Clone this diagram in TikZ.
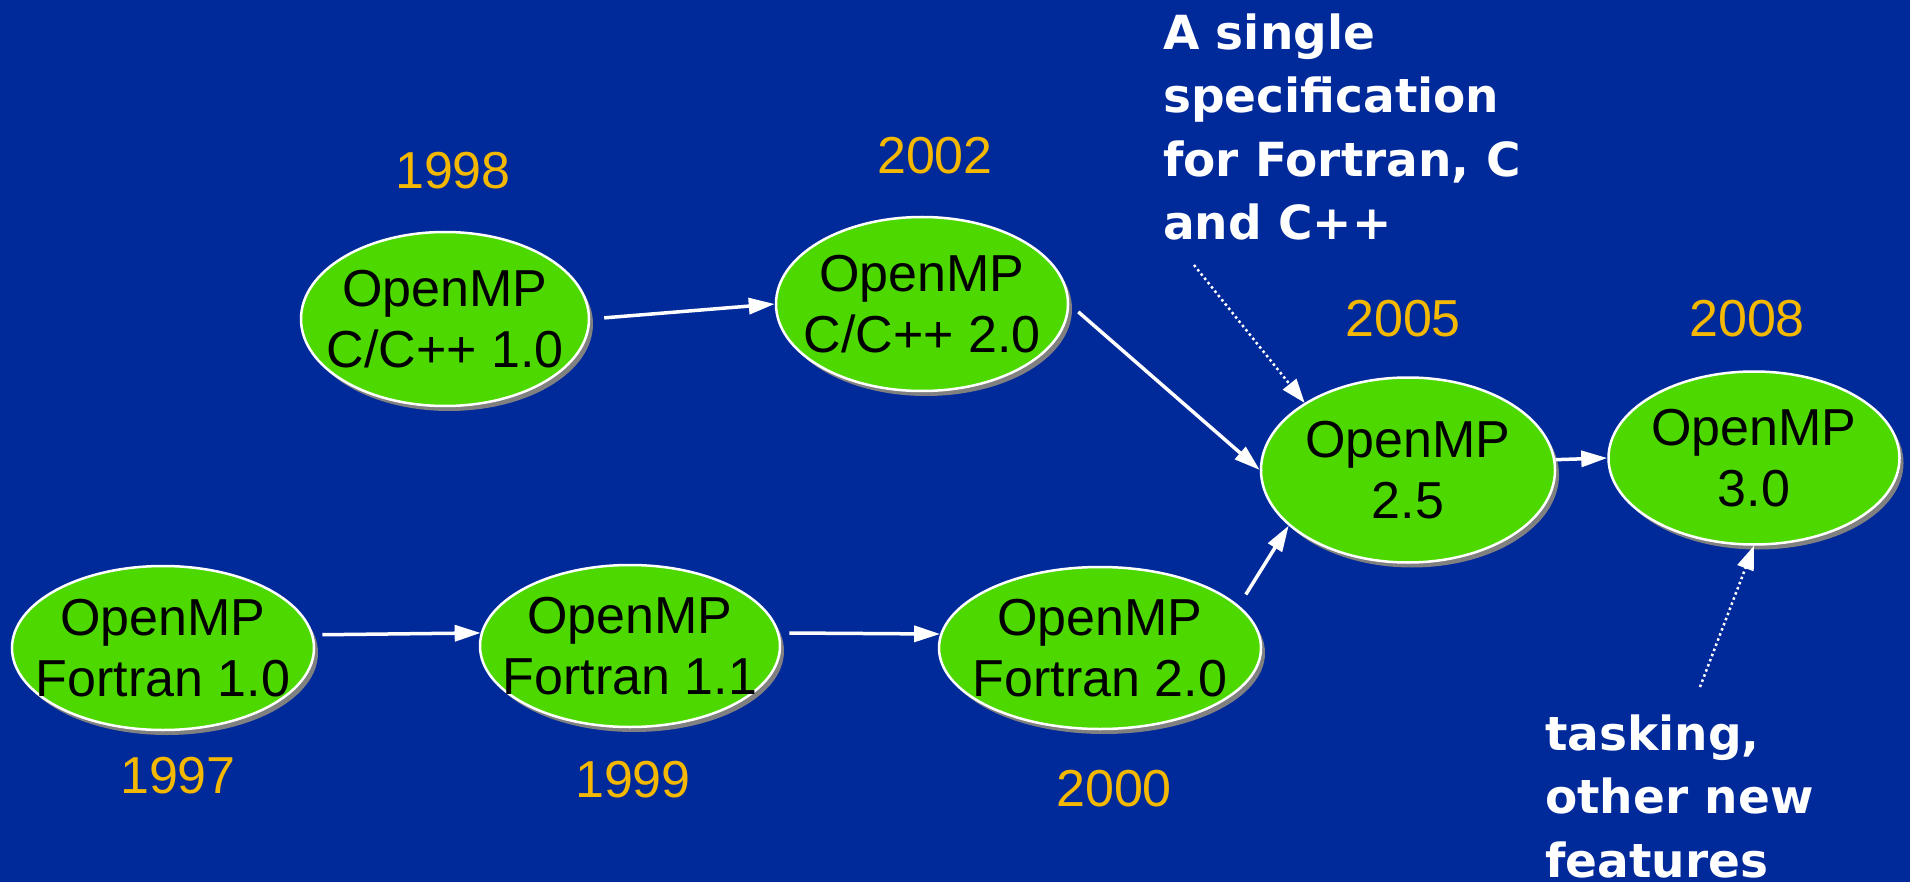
\documentclass[tikz,border=0pt]{standalone}
\usepackage{fontspec}
\setmainfont{Liberation Sans}
\newfontfamily\notefont{DejaVu Sans}
\usetikzlibrary{shapes.geometric,shadows,arrows.meta}

\definecolor{slideblue}{RGB}{0,41,153}
\definecolor{vgreen}{RGB}{77,217,0}
\definecolor{yearorange}{RGB}{245,184,0}

\tikzset{
  ver/.style 2 args={ellipse, draw=white, line width=2.5pt, fill=vgreen,
    minimum width=#1, minimum height=#2, inner sep=0pt,
    drop shadow={shadow xshift=4pt, shadow yshift=-5pt, fill=gray, opacity=1}},
  vtext/.style={align=center, inner sep=0pt, font=\fontsize{52}{61}\selectfont},
  year/.style={text=yearorange, inner sep=0pt, font=\fontsize{52}{61}\selectfont},
  note/.style={text=white, align=left, inner sep=0pt, anchor=base west,
    font=\notefont\bfseries\fontsize{47}{63.5}\selectfont},
  conn/.style={white, line width=3.5pt, -{Triangle[length=26pt,width=16pt]}},
  hint/.style={white, line width=2.5pt, dash pattern=on 2.5pt off 3pt,
    -{Triangle[length=24pt,width=17pt]}},
}

\begin{document}
\begin{tikzpicture}[x=1pt,y=-1pt]
%background of the slide
\useasboundingbox (0,0) rectangle (1910,882);
\fill[slideblue] (0,0) rectangle (1910,882);

%Shape: Ellipse - C/C++ line
\node[ver={288pt}{174pt}] (c10) at (445,319) {};
\node[ver={292pt}{174pt}] (c20) at (922,304) {};
%Shape: Ellipse - Fortran line
\node[ver={302pt}{164pt}] (f10) at (163,648) {};
\node[ver={300pt}{162pt}] (f11) at (630,646) {};
\node[ver={322pt}{162pt}] (f20) at (1100,648) {};
%Shape: Ellipse - merged specs
\node[ver={294pt}{185pt}] (n25) at (1408,470) {};
\node[ver={291pt}{173pt}] (n30) at (1754,458) {};

% Text Node - version names
\node[vtext] (c10t) at (c10) {OpenMP\\C/C++ 1.0};
\node[vtext] (c20t) at (c20) {OpenMP\\C/C++ 2.0};
\node[vtext] (f10t) at (f10) {OpenMP\\Fortran 1.0};
\node[vtext] (f11t) at (f11) {OpenMP\\Fortran 1.1};
\node[vtext] (f20t) at (f20) {OpenMP\\Fortran 2.0};
\node[vtext] (n25t) at (n25) {OpenMP\\2.5};
\node[vtext] (n30t) at (n30) {OpenMP\\3.0};

% Text Node - years
\node[year] (y98) at (453,171) {1998};
\node[year] (y02) at (935,156) {2002};
\node[year] (y05) at (1403,319) {2005};
\node[year] (y08) at (1747,319) {2008};
\node[year] (y97) at (178,776) {1997};
\node[year] (y99) at (633,780) {1999};
\node[year] (y00) at (1114,789) {2000};

% Text Node - remarks (anchored at the last line)
\node[note] (spec) at (1163,240) {A single\\specification\\for Fortran, C\\and C++};
\node[note] (task) at (1545,877) {tasking,\\other new\\features};
\coordinate (specend) at (1194,265);
\coordinate (taskend) at (1700,687);

%Straight Lines - arrows
\draw[conn, shorten <=14pt] (c10.east) -- (c20.west);
\draw[conn, shorten <=12pt] (c20.east) -- (n25.west);
\draw[conn, shorten <=9pt] (f10.5) -- (f11.175);
\draw[conn, shorten <=10pt] (f11.5) -- (f20.175);
\draw[conn, shorten <=13pt] (f20.17) -- (n25.205);
\draw[conn] (n25.4) -- (n30.west);
\draw[hint] (specend) -- (n25.147);
\draw[hint] (taskend) -- (n30.south);

\end{tikzpicture}
\end{document}
